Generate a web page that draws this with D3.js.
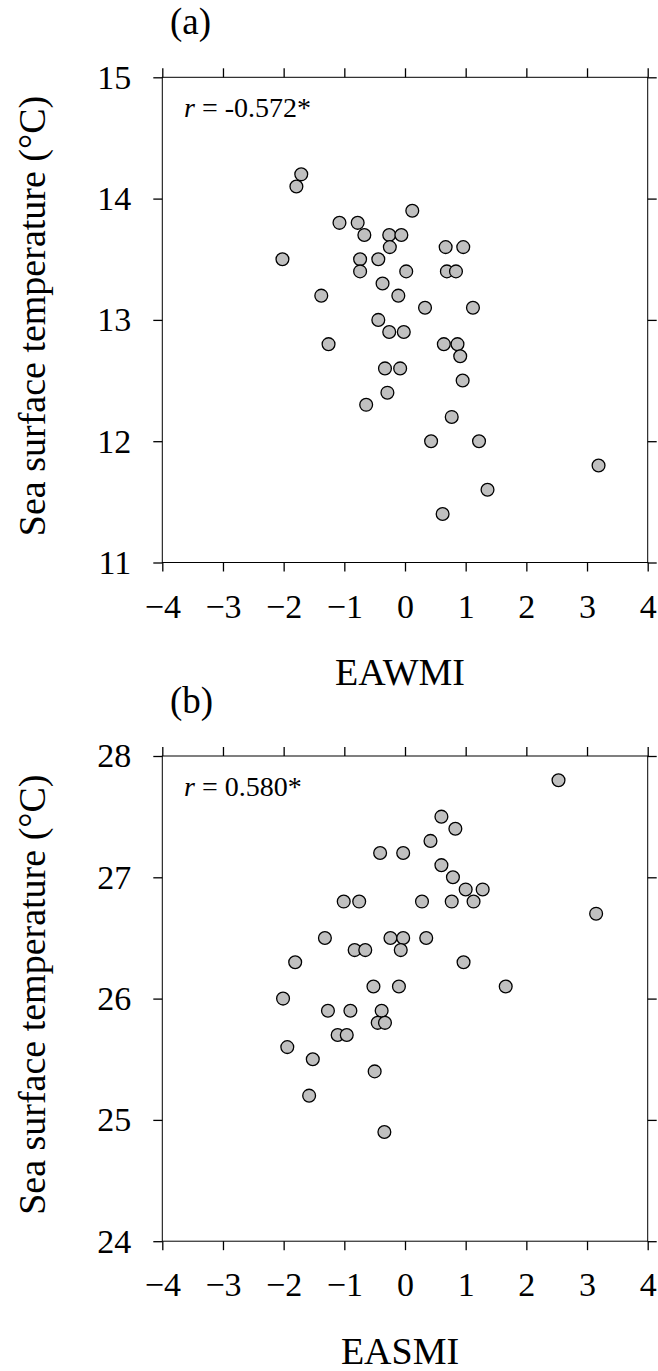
<!doctype html>
<html lang="en">
<head>
<meta charset="utf-8">
<style>
  body { margin: 0; background: #fff; }
  svg { display: block; }
  .tick line { stroke: #000; stroke-width: 1.3px; }
  .frame { fill: none; stroke: #000; stroke-width: 1px; }
  .dot { fill: #c0c0c0; stroke: #000; stroke-width: 1.3px; }
</style>
</head>
<body>
<script src="https://cdn.jsdelivr.net/npm/d3@7"></script>
<script>
// panel (a): EAWMI vs SST
var eawmi = [-1.71,-1.79,0.12,-1.08,-0.78,-0.67,-0.26,-0.06,-0.25,0.67,0.96,-2.02,-0.74,-0.44,-0.74,0.02,0.69,0.84,-0.37,-1.38,-0.11,
             0.33,1.12,-0.44,-0.26,-0.02,-1.26,0.64,0.865,0.91,-0.33,-0.08,0.95,-0.29,-0.64,0.77,0.43,1.22,3.19,1.36,0.62];
var sstA = [14.2,14.1,13.9,13.8,13.8,13.7,13.7,13.7,13.6,13.6,13.6,13.5,13.5,13.5,13.4,13.4,13.4,13.4,13.3,13.2,13.2,
            13.1,13.1,13.0,12.9,12.9,12.8,12.8,12.8,12.7,12.6,12.6,12.5,12.4,12.3,12.2,12.0,12.0,11.8,11.6,11.4];

// panel (b): EASMI vs SST
var easmi = [2.53,0.60,0.83,0.42,-0.41,-0.03,0.60,0.79,1.00,1.28,-1.01,-0.755,0.28,0.77,1.13,3.15,-1.32,-0.24,-0.03,0.35,-0.83,
             -0.655,-0.07,-1.81,0.965,-0.52,-0.10,1.66,-2.01,-1.27,-0.90,-0.385,-0.45,-0.33,-1.11,-0.96,-1.94,-1.52,-0.50,-1.58,-0.34];
var sstB = [27.8,27.5,27.4,27.3,27.2,27.2,27.1,27.0,26.9,26.9,26.8,26.8,26.8,26.8,26.8,26.7,26.5,26.5,26.5,26.5,26.4,
            26.4,26.4,26.3,26.3,26.1,26.1,26.1,26.0,25.9,25.9,25.9,25.8,25.8,25.7,25.7,25.6,25.5,25.4,25.2,24.9];

var xTicks = [-4,-3,-2,-1,0,1,2,3,4];
var yTicksA = [11,12,13,14,15];
var yTicksB = [24,25,26,27,28];

var serif = "'Liberation Serif', 'Times New Roman', 'DejaVu Serif', serif";
var width = 658, height = 1371;
var left = 162.3, right = 647.7, plotH = 485.2;

var svg = d3.select("body").append("svg")
    .attr("width", width)
    .attr("height", height)
    .attr("font-family", serif);

function styleText(sel, size) {
  sel.attr("font-family", serif).style("font-family", serif)
     .style("font-size", size + "px").attr("fill", "#000");
}

function panel(top, xs, ys, yTicks, letter, rText, xName) {
  var g = svg.append("g").attr("transform", "translate(0," + top + ")");
  var x = d3.scaleLinear().domain([-4, 4]).range([left, right]);
  var y = d3.scaleLinear().domain([yTicks[0], yTicks[yTicks.length-1]]).range([plotH, 0]);

  // axes, ticks pointing out on all four sides
  g.append("g").attr("transform", "translate(0," + plotH + ")")
    .call(d3.axisBottom(x).tickValues(xTicks).tickSize(9).tickSizeOuter(0).tickPadding(22))
    .call(function(a){ a.select(".domain").remove(); a.attr("font-family", serif); styleText(a.selectAll("text"), 34); });
  g.append("g")
    .call(d3.axisTop(x).tickValues(xTicks).tickSize(9).tickSizeOuter(0).tickFormat(""))
    .call(function(a){ a.select(".domain").remove(); });
  g.append("g").attr("transform", "translate(" + left + ",0)")
    .call(d3.axisLeft(y).tickValues(yTicks).tickSize(9).tickSizeOuter(0).tickPadding(22).tickFormat(d3.format("d")))
    .call(function(a){ a.select(".domain").remove(); a.attr("font-family", serif); styleText(a.selectAll("text"), 34); });
  g.append("g").attr("transform", "translate(" + right + ",0)")
    .call(d3.axisRight(y).tickValues(yTicks).tickSize(9).tickSizeOuter(0).tickFormat(""))
    .call(function(a){ a.select(".domain").remove(); });

  g.append("rect").attr("class", "frame")
    .attr("x", left).attr("y", 0)
    .attr("width", right - left).attr("height", plotH);

  g.selectAll("circle").data(d3.range(xs.length)).enter()
    .append("circle").attr("class", "dot")
    .attr("cx", function(i){ return x(xs[i]); })
    .attr("cy", function(i){ return y(ys[i]); })
    .attr("r", 6.4);

  // labels
  g.append("text").attr("x", 170).attr("y", -43).call(styleText, 37).text(letter);

  var rt = g.append("text").attr("x", 184).attr("y", 40).call(styleText, 28);
  rt.append("tspan").style("font-style", "italic").text("r");
  rt.append("tspan").text(" = " + rText);

  g.append("text").attr("x", 400).attr("y", 608)
    .attr("text-anchor", "middle").call(styleText, 38).text(xName);

  g.append("text")
    .attr("transform", "translate(45," + 238.7 + ") rotate(-90)")
    .attr("text-anchor", "middle").call(styleText, 38)
    .text("Sea surface temperature (°C)");
}

panel(77.3, eawmi, sstA, yTicksA, "(a)", "-0.572*", "EAWMI");
panel(756, easmi, sstB, yTicksB, "(b)", "0.580*", "EASMI");
</script>
</body>
</html>
